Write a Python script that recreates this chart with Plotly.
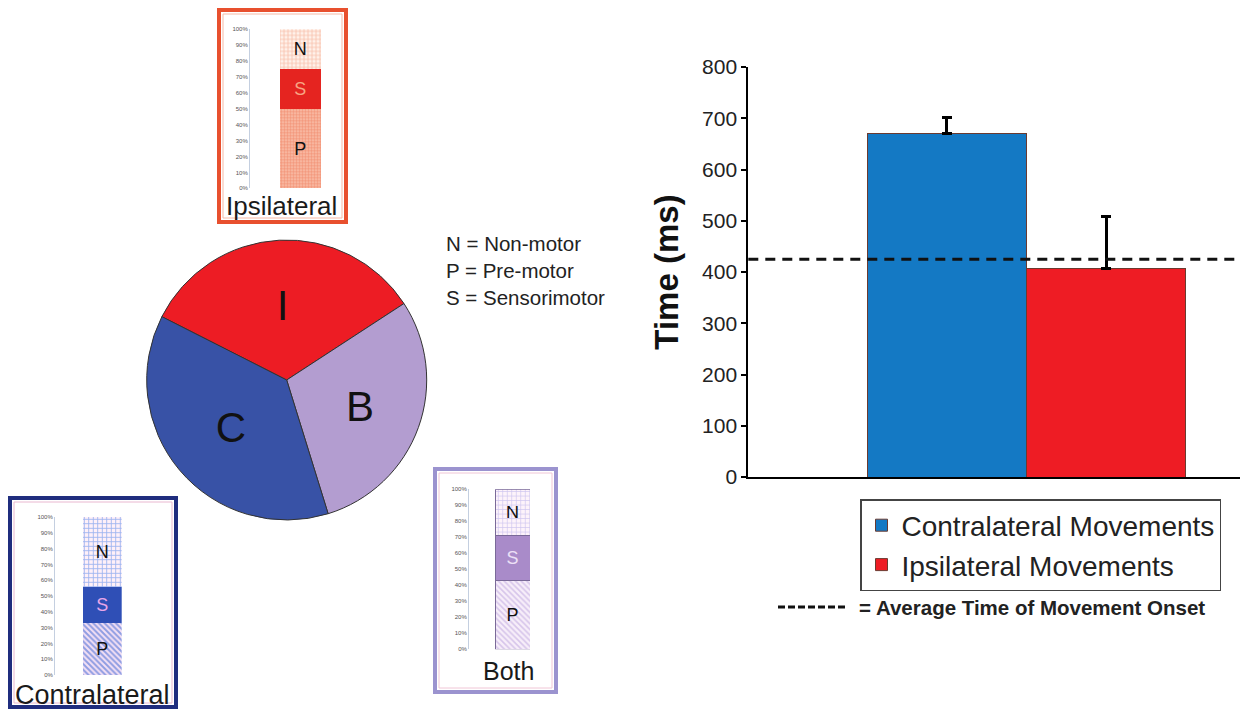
import plotly.graph_objects as go

W, H = 1252, 711
OX, OY = 8, 8  # page body offset of the plot in the browser
FONT = "Arial, Liberation Sans, Helvetica, sans-serif"

# ---------------- data ----------------
# Bar chart: movement onset times
move_labels = ["Contralateral Movements", "Ipsilateral Movements"]
move_times = [671, 407]
move_err_up = [31, 101]
move_colors = ["#1479c4", "#ee1c24"]
avg_onset = 425
y_tick_vals = [0, 100, 200, 300, 400, 500, 600, 700, 800]

# Pie: site categories (Ipsilateral, Both, Contralateral)
pie_labels = ["I", "B", "C"]
pie_counts = [17, 15, 19]
pie_colors = ["#ed1c24", "#b39dd0", "#3852a6"]

# Insets: stacked % of electrode regions (P, S, N)
region_codes = ["P", "S", "N"]
ipsi_pct = [50, 25, 25]
contra_pct = [33, 23, 44]
both_pct = [43, 28, 29]
inset_ticks = [0, 10, 20, 30, 40, 50, 60, 70, 80, 90, 100]
inset_ticktext = [f"{v}%" for v in inset_ticks]

region_key = ["N = Non-motor", "P = Pre-motor", "S = Sensorimotor"]


def px(x):
    return (x - OX) / W


def py(y):
    return 1 - (y - OY) / H


fig = go.Figure()

# ---------------- main bar chart ----------------
for lab, val, err, col in zip(move_labels, move_times, move_err_up, move_colors):
    fig.add_trace(go.Bar(
        x=[lab], y=[val], width=[1], name=lab,
        marker=dict(color=col, line=dict(color="#6a3a30", width=1)),
        error_y=dict(type="data", array=[err], arrayminus=[0], symmetric=False,
                     color="black", thickness=3, width=5),
        xaxis="x", yaxis="y", hoverinfo="x+y",
    ))

# ---------------- pie ----------------
fig.add_trace(go.Pie(
    labels=pie_labels, values=pie_counts, sort=False, direction="clockwise",
    rotation=-63.1,
    marker=dict(colors=pie_colors, line=dict(color="#333333", width=1)),
    textinfo="label", textposition="inside", insidetextorientation="horizontal",
    textfont=dict(size=42, color="#111111", family=FONT),
    domain=dict(x=[px(146.7), px(426.7)], y=[py(520), py(240)]),
    showlegend=False, hoverinfo="label+percent",
))

# ---------------- insets ----------------
insets = [
    dict(name="Ipsilateral", pct=ipsi_pct, idx=2, axis_px=250, bar_l=279.5, bar_r=321,
         y0=188.3, y100=29.3,
         styles=[
             dict(shape=".", fg="#ee6a48", bg="#f9c2ad", size=3, sol=0.6, tc="#111111"),
             dict(shape="", fg="#e52420", bg="#e52420", size=4, sol=0.5, tc="#f8a583"),
             dict(shape="+", fg="#ef8a66", bg="#fff1ea", size=4, sol=0.35, tc="#111111"),
         ], outline="rgba(0,0,0,0)"),
    dict(name="Contralateral", pct=contra_pct, idx=3, axis_px=55, bar_l=82.7, bar_r=121.7,
         y0=675, y100=517,
         styles=[
             dict(shape="\\", fg="#2a5ad0", bg="#f4e0f4", size=4, sol=0.5, tc="#111111"),
             dict(shape="", fg="#2f4fb6", bg="#2f4fb6", size=4, sol=0.5, tc="#e8a6e8"),
             dict(shape="+", fg="#3a78e8", bg="#fff0f8", size=4.5, sol=0.35, tc="#111111"),
         ], outline="rgba(0,0,0,0)"),
    dict(name="Both", pct=both_pct, idx=4, axis_px=469, bar_l=495, bar_r=530,
         y0=649.3, y100=489.3,
         styles=[
             dict(shape="\\", fg="#b69cdc", bg="#f7eef9", size=4, sol=0.4, tc="#111111"),
             dict(shape="", fg="#a98bc9", bg="#a98bc9", size=4, sol=0.5, tc="#ece0f6"),
             dict(shape="+", fg="#a098e4", bg="#fdf3fa", size=4.5, sol=0.28, tc="#111111"),
         ], outline="#7a6a98"),
]

layout_axes = {}
for ins in insets:
    i = ins["idx"]
    for code, val, st in zip(region_codes, ins["pct"], ins["styles"]):
        marker = dict(color=st["bg"], line=dict(color=ins["outline"], width=1))
        if st["shape"]:
            marker["pattern"] = dict(shape=st["shape"], fgcolor=st["fg"], bgcolor=st["bg"],
                                     size=st["size"], solidity=st["sol"], fillmode="overlay")
        fig.add_trace(go.Bar(
            x=[ins["name"]], y=[val], width=[1], marker=marker,
            text=[code], textposition="inside", insidetextanchor="middle",
            textangle=0, constraintext="none",
            textfont=dict(size=18, color=st["tc"], family=FONT),
            xaxis=f"x{i}", yaxis=f"y{i}", showlegend=False, hoverinfo="y",
        ))
    unit = ins["bar_r"] - ins["bar_l"]
    layout_axes[f"xaxis{i}"] = dict(
        domain=[px(ins["axis_px"]), px(ins["bar_r"])],
        range=[-0.5 - (ins["bar_l"] - ins["axis_px"]) / unit, 0.5],
        visible=False, anchor=f"y{i}", fixedrange=True, automargin=False,
    )
    layout_axes[f"yaxis{i}"] = dict(
        domain=[py(ins["y0"]), py(ins["y100"])], range=[0, 100],
        tickvals=inset_ticks, ticktext=inset_ticktext,
        tickfont=dict(size=6, color="#555555", family=FONT),
        showline=True, linecolor="#c4cfe0", linewidth=1, ticks="",
        showgrid=False, zeroline=False, anchor=f"x{i}", fixedrange=True, automargin=False,
    )

fig.update_layout(**layout_axes)

# ---------------- layout ----------------
fig.update_layout(
    template="none",
    width=W, height=H, margin=dict(l=0, r=0, t=0, b=0, pad=0, autoexpand=False),
    paper_bgcolor="white", plot_bgcolor="rgba(0,0,0,0)",
    barmode="stack", font=dict(family=FONT, color="#222222"),
    xaxis=dict(domain=[px(748.3), px(1240)], range=[-1.247, 1.841],
               showline=True, linecolor="black", linewidth=2,
               showticklabels=False, ticks="", showgrid=False, zeroline=False,
               anchor="y", fixedrange=True, automargin=False),
    yaxis=dict(domain=[py(477), py(67)], range=[0, 800], tickvals=y_tick_vals,
               ticks="outside", ticklen=5, tickwidth=2, tickcolor="black",
               showline=True, linecolor="black", linewidth=2,
               tickfont=dict(size=21, color="#222222", family=FONT),
               showgrid=False, zeroline=False, anchor="x", fixedrange=True, automargin=False,
               title=dict(text="<b>Time (ms)</b>", font=dict(size=33, color="#111111", family=FONT),
                          standoff=14)),
    legend=dict(x=px(860), y=py(499), xanchor="left", yanchor="top",
                font=dict(size=28, color="#222222", family=FONT),
                bordercolor="#444444", borderwidth=1.5, bgcolor="white",
                traceorder="normal", itemclick=False, itemdoubleclick=False),
    showlegend=True,
)


def frame(x0, x1, y0, y1, outer, inner):
    return [
        dict(type="rect", xref="paper", yref="paper", x0=px(x0), x1=px(x1), y0=py(y0), y1=py(y1),
             line=dict(color=outer, width=4)),
        dict(type="rect", xref="paper", yref="paper", x0=px(x0 + 4), x1=px(x1 - 4),
             y0=py(y0 + 4), y1=py(y1 - 4), line=dict(color=inner, width=1)),
    ]


shapes = [
    # average onset line across the bar plot
    dict(type="line", xref="x domain", yref="y", x0=0, x1=1, y0=avg_onset, y1=avg_onset,
         line=dict(color="#111111", width=3, dash="10px,7px"), layer="above"),
    # key for dashed line
    dict(type="line", xref="paper", yref="paper", x0=px(778), x1=px(848), y0=py(607), y1=py(607),
         line=dict(color="#111111", width=3, dash="7px,3px")),
]
# inset frames
shapes += frame(219, 346, 10, 222, "#e8502e", "#f6b9a6")
shapes += frame(10, 176, 498, 707, "#1f2d7e", "#e9b8d0")
shapes += frame(435, 556, 469, 692, "#9b93cf", "#f0c6d6")
fig.update_layout(shapes=shapes)

annotations = [
    dict(text="<b>= Average Time of Movement Onset</b>", x=px(857), y=py(607),
         xanchor="left", yanchor="middle", font=dict(size=20.5, color="#222222", family=FONT)),
    dict(text="Ipsilateral", x=px(281), y=py(206), xanchor="center", yanchor="middle",
         font=dict(size=26, color="#1a1a1a", family=FONT)),
    dict(text="Contralateral", x=px(92), y=py(695), xanchor="center", yanchor="middle",
         font=dict(size=27, color="#1a1a1a", family=FONT)),
    dict(text="Both", x=px(508), y=py(671), xanchor="center", yanchor="middle",
         font=dict(size=25, color="#1a1a1a", family=FONT)),
]
for k, line in enumerate(region_key):
    annotations.append(dict(text=line, x=px(444), y=py(243 + 27 * k), xanchor="left",
                            yanchor="middle", font=dict(size=20.5, color="#222222", family=FONT)))
for a in annotations:
    a.update(xref="paper", yref="paper", showarrow=False)
fig.update_layout(annotations=annotations)

fig.write_html("out.html")
